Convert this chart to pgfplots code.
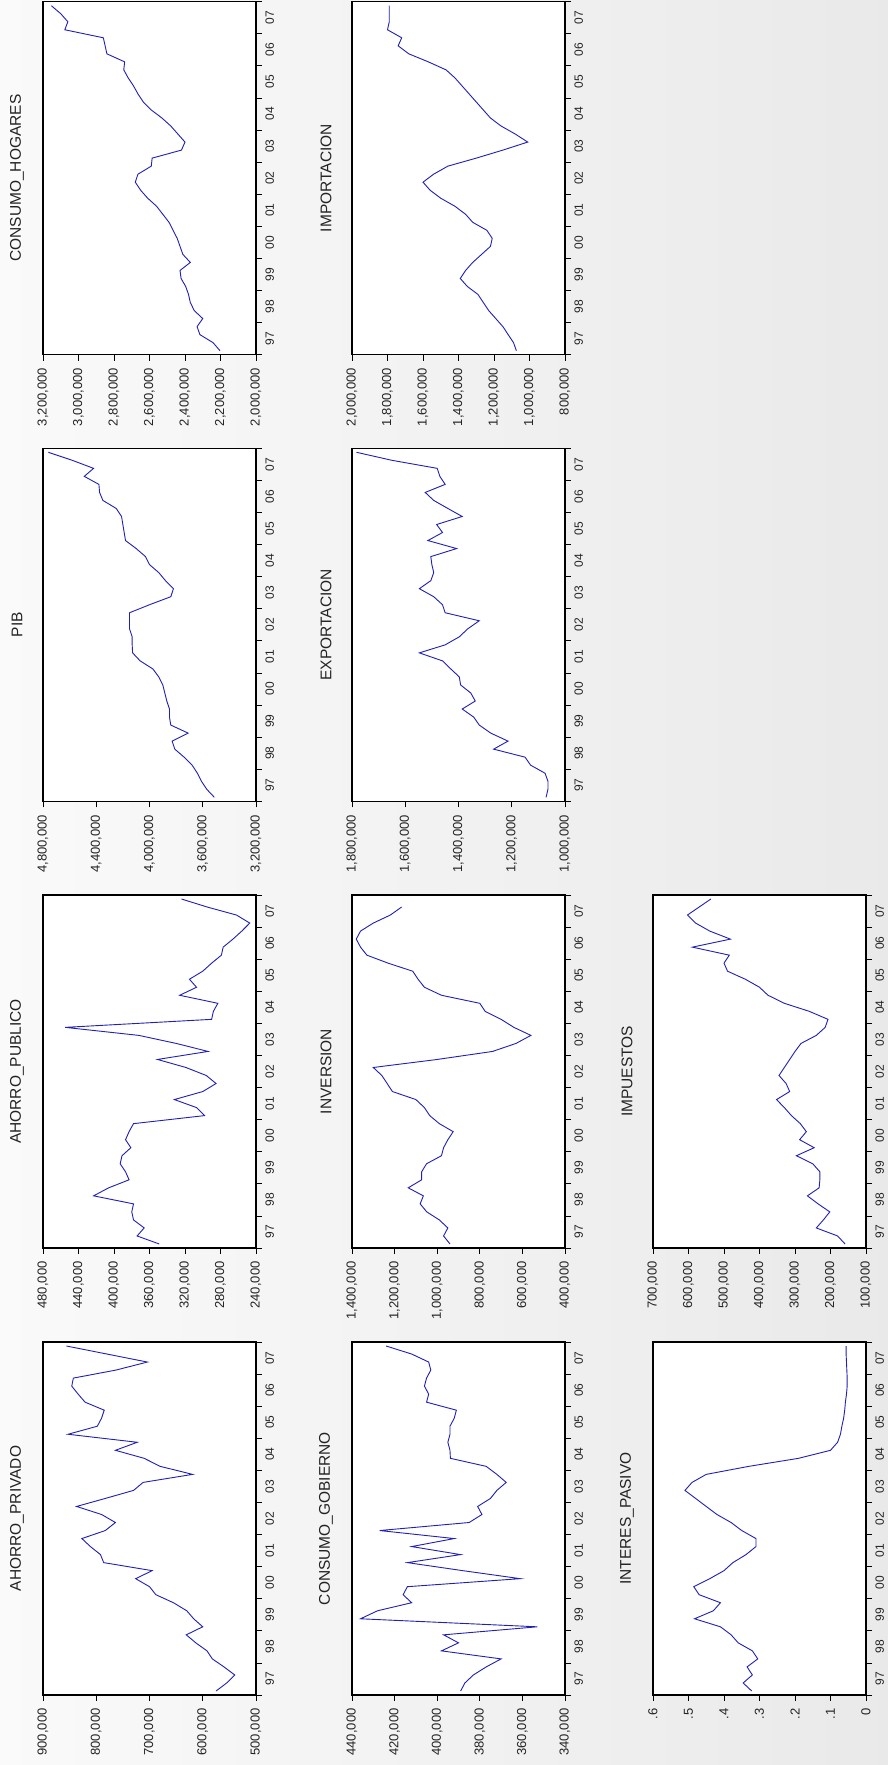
\documentclass[border=0pt]{standalone}
\usepackage{fontspec}
\setmainfont{Liberation Sans}
\usepackage{pgfplots}
\usepackage{pgfplotstable}
\pgfplotsset{compat=1.18}
\definecolor{evblue}{RGB}{32,32,180}
\definecolor{evtext}{RGB}{35,35,35}

\pgfplotstableread{
t CH IMP PIB EXP AP INV IMPU APR CG INT
1997.125 2203000 1074000 3513000 1071000 349000 940000 159000 575000 389000 0.322
1997.375 2242000 1090000 3570000 1064000 374000 970000 180000 555000 387000 0.346
1997.625 2316000 1120000 3610000 1064000 366000 950000 240000 540000 383000 0.320
1997.875 2332000 1150000 3640000 1075000 378000 990000 220000 560000 377000 0.335
1998.125 2300000 1190000 3680000 1129000 380000 1049000 202000 582000 370000 0.305
1998.375 2348000 1230000 3740000 1150000 378000 1080000 235000 592000 398000 0.320
1998.625 2370000 1260000 3810000 1268000 423000 1065000 265000 613000 390000 0.360
1998.875 2380000 1290000 3830000 1214000 406000 1136000 232000 631000 397000 0.380
1999.125 2396000 1350000 3710000 1279000 383000 1073000 230000 600000 353000 0.410
1999.375 2422000 1390000 3840000 1322000 387000 1073000 230000 617000 436000 0.483
1999.625 2428000 1360000 3850000 1343000 393000 1050000 250000 630000 428000 0.430
1999.875 2370000 1320000 3850000 1386000 391000 980000 296000 655000 412000 0.410
2000.125 2412000 1270000 3870000 1337000 381000 970000 246000 688000 416000 0.470
2000.375 2428000 1220000 3885000 1354000 387000 950000 287000 700000 414000 0.485
2000.625 2444000 1210000 3900000 1392000 383000 925000 268000 726000 361000 0.440
2000.875 2467000 1240000 3930000 1397000 378000 990000 285000 695000 388000 0.400
2001.125 2490000 1320000 3975000 1429000 298000 1035000 310000 786000 414000 0.375
2001.375 2525000 1360000 4070000 1460000 307000 1060000 330000 792000 389000 0.338
2001.625 2560000 1420000 4127000 1547000 332000 1100000 352000 811000 412000 0.310
2001.875 2610000 1500000 4130000 1450000 300000 1210000 315000 827000 392000 0.310
2002.125 2650000 1560000 4130000 1397000 285000 1235000 325000 783000 427000 0.350
2002.375 2680000 1600000 4150000 1365000 296000 1260000 345000 764000 385000 0.380
2002.625 2665000 1540000 4150000 1322000 319000 1300000 330000 790000 379000 0.420
2002.875 2590000 1460000 4150000 1450000 351000 1000000 315000 837000 381000 0.450
2003.125 2585000 1300000 4000000 1460000 294000 740000 300000 783000 375000 0.480
2003.375 2420000 1150000 3840000 1493000 330000 630000 283000 730000 372000 0.510
2003.625 2400000 1010000 3820000 1547000 372000 560000 240000 712000 367600 0.490
2003.875 2440000 1080000 3880000 1504000 455000 640000 215000 619000 372000 0.450
2004.125 2480000 1160000 3930000 1493000 290000 700000 207000 680000 377000 0.330
2004.375 2530000 1220000 4000000 1500000 288000 775000 260000 710000 393800 0.190
2004.625 2590000 1260000 4030000 1504000 283000 800000 330000 764000 394000 0.100
2004.875 2635000 1300000 4100000 1407000 326000 980000 376000 723000 395000 0.080
2005.125 2665000 1340000 4180000 1515000 307000 1060000 400000 853000 394000 0.072
2005.375 2690000 1380000 4190000 1460000 315000 1090000 440000 798000 394000 0.068
2005.625 2720000 1420000 4200000 1482000 300000 1115000 490000 790000 392000 0.063
2005.875 2745000 1470000 4210000 1386000 290000 1230000 500000 785000 391000 0.060
2006.125 2740000 1570000 4250000 1440000 279000 1330000 485000 821000 405000 0.058
2006.375 2840000 1680000 4350000 1493000 277000 1360000 589000 834000 404000 0.055
2006.625 2850000 1740000 4375000 1525000 266000 1380000 482000 846000 406000 0.053
2006.875 2860000 1720000 4380000 1450000 256000 1360000 540000 843000 405000 0.053
2007.125 3077000 1800000 4490000 1470000 247000 1300000 580000 763000 403000 0.054
2007.375 3060000 1790000 4420000 1480000 262000 1220000 603000 704000 404000 0.055
2007.625 3100000 1790000 4580000 1650000 295000 1167000 570000 780000 412000 0.056
2007.875 3153000 1790000 4760000 1783000 324000 nan 537000 856000 424000 0.056
}\data

\pgfplotsset{
  evpanel/.style={
    scale only axis, width=213pt, height=353pt,
    x dir=reverse,
    ymin=1997, ymax=2008,
    ytick={1997,1998,...,2008},
    yticklabels={97,98,99,00,01,02,03,04,05,06,07,{}},
    xtick pos=left, ytick pos=right, yticklabel pos=right,
    tick align=outside, major tick length=6pt,
    tick style={black, line width=0.8pt},
    axis line style={black, line width=1.2pt},
    axis background/.style={fill=white},
    scaled x ticks=false,
    /pgf/number format/fixed,
    /pgf/number format/1000 sep={,},
    /pgf/number format/assume math mode=true,
    xticklabel style={font=\fontsize{13}{13}\selectfont, text=evtext, yshift=-4pt, rotate=90, anchor=east},
    yticklabel style={font=\fontsize{12}{12}\selectfont, text=evtext, yshift=16.05pt, rotate=90, anchor=north},
    title style={at={(0,0.5)}, anchor=center, yshift=-6pt, xshift=-26pt, rotate=90,
                 font=\fontsize{15.5}{15.5}\selectfont, text=evtext},
  },
  evline/.style={evblue, line width=0.9pt, mark=none},
}

\begin{document}
\begin{tikzpicture}
\shade[left color=gray!4, right color=gray!17] (0pt,0pt) rectangle (888pt,1765pt);
\path[use as bounding box] (0pt,0pt) rectangle (888pt,1765pt);

% Row 1
\begin{axis}[evpanel, at={(43pt,1410.3pt)}, anchor=south west,
  title={CONSUMO\_HOGARES},
  xmin=2000000, xmax=3200000,
  xtick={2000000,2200000,2400000,2600000,2800000,3000000,3200000}]
\addplot[evline] table[x=CH, y=t] {\data};
\end{axis}
\begin{axis}[evpanel, at={(352pt,1410.3pt)}, anchor=south west,
  title={IMPORTACION},
  xmin=800000, xmax=2000000,
  xtick={800000,1000000,1200000,1400000,1600000,1800000,2000000}]
\addplot[evline] table[x=IMP, y=t] {\data};
\end{axis}

% Row 2
\begin{axis}[evpanel, at={(43pt,963.7pt)}, anchor=south west,
  title={PIB},
  xmin=3200000, xmax=4800000,
  xtick={3200000,3600000,4000000,4400000,4800000}]
\addplot[evline] table[x=PIB, y=t] {\data};
\end{axis}
\begin{axis}[evpanel, at={(352pt,963.7pt)}, anchor=south west,
  title={EXPORTACION},
  xmin=1000000, xmax=1800000,
  xtick={1000000,1200000,1400000,1600000,1800000}]
\addplot[evline] table[x=EXP, y=t] {\data};
\end{axis}

% Row 3
\begin{axis}[evpanel, at={(43pt,517pt)}, anchor=south west,
  title={AHORRO\_PUBLICO},
  xmin=240000, xmax=480000,
  xtick={240000,280000,320000,360000,400000,440000,480000}]
\addplot[evline] table[x=AP, y=t] {\data};
\end{axis}
\begin{axis}[evpanel, at={(352pt,517pt)}, anchor=south west,
  title={INVERSION},
  xmin=400000, xmax=1400000,
  xtick={400000,600000,800000,1000000,1200000,1400000}]
\addplot[evline] table[x=INV, y=t] {\data};
\end{axis}
\begin{axis}[evpanel, at={(653pt,517pt)}, anchor=south west,
  title={IMPUESTOS},
  xmin=100000, xmax=700000,
  xtick={100000,200000,300000,400000,500000,600000,700000}]
\addplot[evline] table[x=IMPU, y=t] {\data};
\end{axis}

% Row 4
\begin{axis}[evpanel, at={(43pt,70pt)}, anchor=south west,
  title={AHORRO\_PRIVADO},
  xmin=500000, xmax=900000,
  xtick={500000,600000,700000,800000,900000}]
\addplot[evline] table[x=APR, y=t] {\data};
\end{axis}
\begin{axis}[evpanel, at={(352pt,70pt)}, anchor=south west,
  title={CONSUMO\_GOBIERNO},
  xmin=340000, xmax=440000,
  xtick={340000,360000,380000,400000,420000,440000}]
\addplot[evline] table[x=CG, y=t] {\data};
\end{axis}
\begin{axis}[evpanel, at={(653pt,70pt)}, anchor=south west,
  title={INTERES\_PASIVO},
  xmin=0, xmax=0.6,
  xtick={0,0.1,0.2,0.3,0.4,0.5,0.6},
  xticklabels={0,.1,.2,.3,.4,.5,.6}]
\addplot[evline] table[x=INT, y=t] {\data};
\end{axis}
\end{tikzpicture}
\end{document}
